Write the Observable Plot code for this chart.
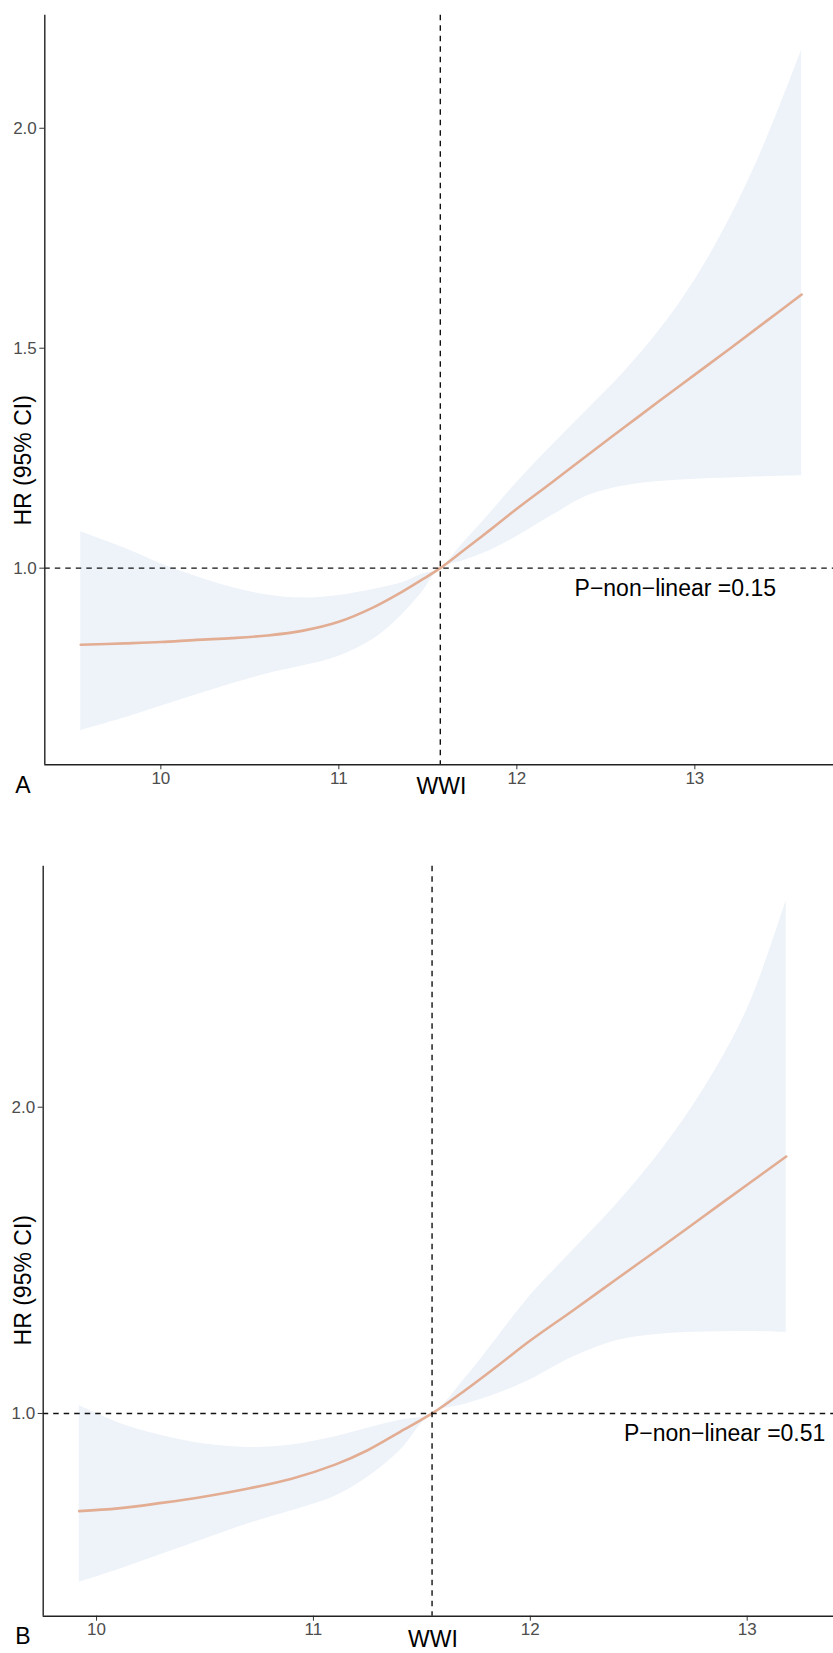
<!DOCTYPE html>
<html>
<head>
<meta charset="utf-8">
<script src="https://cdn.jsdelivr.net/npm/d3@7"></script>
<script src="https://cdn.jsdelivr.net/npm/@observablehq/plot@0.6"></script>
<style>
  html, body { margin: 0; padding: 0; background: #fff; }
  #wrap { width: 833px; height: 1653px; position: relative; overflow: hidden; }
  #wrap svg { display: block; overflow: visible; }
</style>
</head>
<body>
<div id="wrap"></div>
<script>
// ---------- Panel A data ----------
const wwiA   = [9.55, 9.8, 10.0, 10.2, 10.4, 10.6, 10.8, 11.0, 11.2, 11.35, 11.46, 11.57, 11.7, 11.85, 12.0, 12.2, 12.4, 12.6, 12.8, 13.0, 13.2, 13.4, 13.6];
const hrA    = [0.826, 0.829, 0.832, 0.837, 0.841, 0.847, 0.858, 0.878, 0.912, 0.945, 0.972, 1.0, 1.040, 1.087, 1.135, 1.196, 1.258, 1.319, 1.380, 1.440, 1.500, 1.561, 1.622];
const lowerA = [0.631, 0.660, 0.686, 0.712, 0.737, 0.760, 0.778, 0.800, 0.840, 0.892, 0.941, 1.0, 1.017, 1.040, 1.072, 1.120, 1.165, 1.187, 1.197, 1.202, 1.205, 1.208, 1.210];
const upperA = [1.083, 1.045, 1.010, 0.981, 0.956, 0.939, 0.932, 0.938, 0.952, 0.966, 0.985, 1.0, 1.058, 1.125, 1.195, 1.280, 1.362, 1.445, 1.540, 1.655, 1.798, 1.972, 2.178];
const refXA = 11.57;
const pTextA = "P\u2212non\u2212linear =0.15";
const pPosA = [12.89, 0.953];
const xTicksA = [10, 11, 12, 13];
const yTicksA = [1.0, 1.5, 2.0];
const xDomainA = [9.348, 13.779];
const yDomainA = [0.553, 2.257];

// ---------- Panel B data ----------
const wwiB   = [9.92, 10.1, 10.3, 10.5, 10.7, 10.9, 11.1, 11.25, 11.4, 11.547, 11.7, 11.85, 12.0, 12.2, 12.4, 12.6, 12.8, 13.0, 13.18];
const hrB    = [0.681, 0.690, 0.708, 0.729, 0.755, 0.787, 0.833, 0.880, 0.940, 1.0, 1.076, 1.156, 1.238, 1.338, 1.440, 1.541, 1.644, 1.747, 1.839];
const lowerB = [0.449, 0.490, 0.540, 0.590, 0.640, 0.682, 0.730, 0.792, 0.879, 1.0, 1.030, 1.065, 1.110, 1.185, 1.238, 1.259, 1.266, 1.268, 1.265];
const upperB = [1.026, 0.970, 0.928, 0.900, 0.889, 0.897, 0.924, 0.952, 0.978, 1.0, 1.115, 1.250, 1.385, 1.535, 1.685, 1.855, 2.060, 2.320, 2.675];
const refXB = 11.547;
const pTextB = "P\u2212non\u2212linear =0.51";
const pPosB = [12.896, 0.935];
const xTicksB = [10, 11, 12, 13];
const yTicksB = [1.0, 2.0];
const xDomainB = [9.754, 13.398];
const yDomainB = [0.338, 2.787];

// ---------- labels ----------
const xTitle = "WWI";
const yTitle = "HR (95% CI)";
const tagA = "A";
const tagB = "B";
const yTitlePosA = 1.245, yTitlePosB = 1.435;
const xTitlePosA = 11.576, xTitlePosB = 11.551;

const FONT = "'Liberation Sans', Arial, Helvetica, sans-serif";
const lineColor = "#E2AD92";
const ribbonColor = "#EEF3FA";

function panel(o) {
  const data = o.x.map((x, i) => ({x, hr: o.hr[i], lo: o.lo[i], hi: o.hi[i]}));
  return Plot.plot({
    width: 833,
    height: o.height,
    marginTop: o.mt,
    marginBottom: o.mb,
    marginLeft: o.ml,
    marginRight: 0,
    style: {fontFamily: FONT, fontSize: "17px", color: "#4d4d4d", background: "white", overflow: "visible"},
    x: {domain: o.xDomain},
    y: {domain: o.yDomain},
    marks: [
      Plot.areaY(data, {x: "x", y1: "lo", y2: "hi", fill: ribbonColor, curve: "catmull-rom"}),
      Plot.line(data, {x: "x", y: "hr", stroke: lineColor, strokeWidth: 2.6, curve: "catmull-rom"}),
      Plot.ruleY([1], {stroke: "#111", strokeWidth: 1.4, strokeDasharray: "5.5,5"}),
      Plot.ruleX([o.refX], {stroke: "#111", strokeWidth: 1.4, strokeDasharray: "5.5,5"}),
      Plot.axisX({ticks: o.xTicks, tickFormat: d3.format("d"), tickSize: 5, tickPadding: 2, label: null, stroke: "#333"}),
      Plot.axisY({ticks: o.yTicks, tickFormat: d3.format(".1f"), tickSize: 5, tickPadding: 3, label: null, stroke: "#333"}),
      Plot.ruleY([o.yDomain[0]], {stroke: "#222", strokeWidth: 1.4}),
      Plot.ruleX([o.xDomain[0]], {stroke: "#222", strokeWidth: 1.4}),
      Plot.text([o.pText], {x: o.pPos[0], y: o.pPos[1], text: d => d, fontSize: 23, fill: "black", textAnchor: "middle", lineAnchor: "middle"}),
      Plot.text([yTitle], {x: o.xDomain[0], y: o.yTitlePos, text: d => d, rotate: -90, dx: o.yTitleDx, fontSize: 23, fill: "black", textAnchor: "middle", lineAnchor: "middle"}),
      Plot.text([xTitle], {x: o.xTitlePos, frameAnchor: "bottom", dy: o.xTitleDy, text: d => d, fontSize: 23, fill: "black", textAnchor: "middle", lineAnchor: "middle"}),
      Plot.text([o.tag], {frameAnchor: "bottom-left", dx: o.tagDx, dy: o.tagDy, text: d => d, fontSize: 23, fill: "black", textAnchor: "middle", lineAnchor: "middle"})
    ]
  });
}

const wrap = document.getElementById("wrap");
wrap.appendChild(panel({
  x: wwiA, hr: hrA, lo: lowerA, hi: upperA, refX: refXA, pText: pTextA, pPos: pPosA,
  xTicks: xTicksA, yTicks: yTicksA, xDomain: xDomainA, yDomain: yDomainA,
  height: 840, mt: 14.7, mb: 75.7, ml: 44.3,
  yTitlePos: yTitlePosA, yTitleDx: -20.8, xTitlePos: xTitlePosA, xTitleDy: 22.2,
  tag: tagA, tagDx: -21.8, tagDy: 20.7
}));
wrap.appendChild(panel({
  x: wwiB, hr: hrB, lo: lowerB, hi: upperB, refX: refXB, pText: pTextB, pPos: pPosB,
  xTicks: xTicksB, yTicks: yTicksB, xDomain: xDomainB, yDomain: yDomainB,
  height: 813, mt: 25.7, mb: 37.3, ml: 42.7,
  yTitlePos: yTitlePosB, yTitleDx: -19.2, xTitlePos: xTitlePosB, xTitleDy: 23.3,
  tag: tagB, tagDx: -20.2, tagDy: 20.8
}));
</script>
</body>
</html>
